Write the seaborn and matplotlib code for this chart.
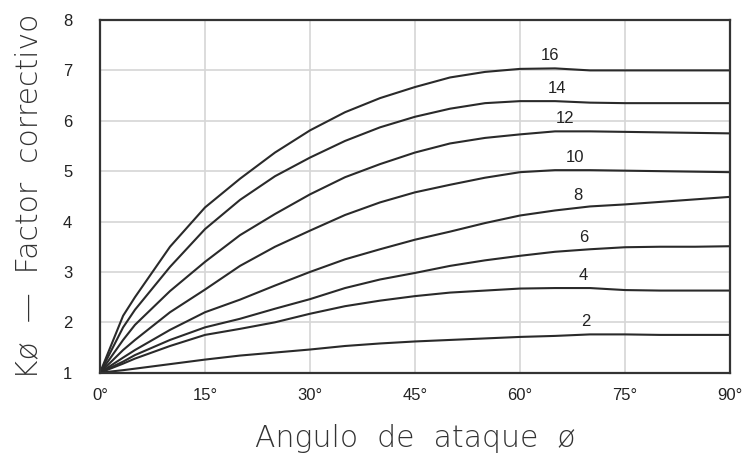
import pandas as pd
import numpy as np
import seaborn as sns
import matplotlib.pyplot as plt

# angulo de ataque (grados)
angles = [0, 3.3, 5, 10, 15, 20, 25, 30, 35, 40, 45, 50, 55, 60, 65, 70, 75, 80, 85, 90]

# factor correctivo K para cada curva (2 ... 16)
k2 = [1.0, 1.05, 1.08, 1.17, 1.26, 1.34, 1.40, 1.46, 1.53, 1.58, 1.62, 1.65, 1.68, 1.71, 1.73, 1.76, 1.76, 1.75, 1.75, 1.75]
k4 = [1.0, 1.18, 1.28, 1.53, 1.75, 1.87, 2.00, 2.17, 2.32, 2.43, 2.52, 2.59, 2.63, 2.67, 2.68, 2.68, 2.64, 2.63, 2.63, 2.63]
k6 = [1.0, 1.22, 1.35, 1.65, 1.90, 2.07, 2.27, 2.46, 2.68, 2.85, 2.98, 3.12, 3.23, 3.32, 3.40, 3.45, 3.49, 3.50, 3.50, 3.51]
k8 = [1.0, 1.30, 1.45, 1.85, 2.20, 2.45, 2.73, 3.00, 3.25, 3.45, 3.64, 3.80, 3.97, 4.12, 4.22, 4.30, 4.34, 4.39, 4.44, 4.49]
k10 = [1.0, 1.45, 1.65, 2.20, 2.65, 3.12, 3.50, 3.82, 4.13, 4.38, 4.58, 4.73, 4.87, 4.98, 5.02, 5.02, 5.01, 5.00, 4.99, 4.98]
k12 = [1.0, 1.65, 1.95, 2.62, 3.20, 3.73, 4.15, 4.54, 4.88, 5.14, 5.37, 5.55, 5.66, 5.73, 5.79, 5.79, 5.78, 5.77, 5.76, 5.75]
k14 = [1.0, 1.90, 2.25, 3.10, 3.85, 4.43, 4.90, 5.27, 5.60, 5.87, 6.08, 6.24, 6.35, 6.39, 6.39, 6.36, 6.35, 6.35, 6.35, 6.35]
k16 = [1.0, 2.13, 2.50, 3.50, 4.28, 4.85, 5.37, 5.81, 6.17, 6.45, 6.67, 6.86, 6.97, 7.03, 7.04, 7.00, 7.00, 7.00, 7.00, 7.00]

curve_names = ["2", "4", "6", "8", "10", "12", "14", "16"]
curve_values = [k2, k4, k6, k8, k10, k12, k14, k16]
label_angles = [69.4, 69.1, 69.1, 68.3, 67.9, 66.4, 65.3, 64.3]

xticks = [0, 15, 30, 45, 60, 75, 90]
xtick_labels = ["0°", "15°", "30°", "45°", "60°", "75°", "90°"]
yticks = [1, 2, 3, 4, 5, 6, 7, 8]

rows = []
for name, vals in zip(curve_names, curve_values):
    for a, v in zip(angles, vals):
        rows.append({"angulo": a, "K": v, "curva": name})
df = pd.DataFrame(rows)

sns.set_style("white")
fig = plt.figure(figsize=(7.48, 4.55), dpi=100)
ax = fig.add_axes([0.1337, 0.1809, 0.976 - 0.1337, 0.956 - 0.1809])

sns.lineplot(data=df, x="angulo", y="K", hue="curva", hue_order=curve_names,
             palette=["#2a2a2a"] * len(curve_names), linewidth=1.5,
             legend=False, sort=False, ax=ax)

# etiquetas de las curvas
for name, vals, la in zip(curve_names, curve_values, label_angles):
    yv = np.interp(la, angles, vals)
    ax.text(la, yv + 0.25, name, ha="center", va="center", fontsize=12,
            family="Liberation Sans", color="#222222")

ax.set_xlim(0, 90)
ax.set_ylim(1, 8)
ax.set_xticks(xticks)
ax.set_xticklabels(xtick_labels)
ax.set_yticks(yticks)
ax.grid(True, color="#d6d6d6", linewidth=1.2)
ax.set_axisbelow(True)
for s in ax.spines.values():
    s.set_color("#333333")
    s.set_linewidth(1.6)
ax.tick_params(axis="both", length=0, colors="#222222")
ax.tick_params(axis="y", pad=20)
ax.tick_params(axis="x", pad=11)
for t in ax.get_xticklabels() + ax.get_yticklabels():
    t.set_family("Liberation Sans")
    t.set_fontsize(12)

ax.set_xlabel("Angulo  de  ataque  ø", fontsize=21.5, family="DejaVu Sans",
              fontweight="light", color="#333333", labelpad=15)
ax.set_ylabel("Kø  —  Factor  correctivo", fontsize=21.5, family="DejaVu Sans",
              fontweight="light", color="#333333", labelpad=14)

fig.savefig("out.png", dpi=100)
